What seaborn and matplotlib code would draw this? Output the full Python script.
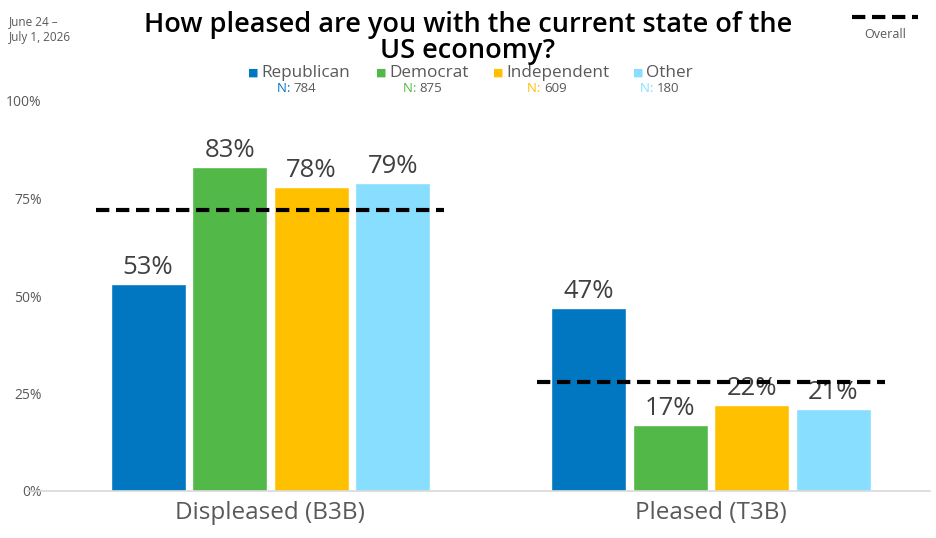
import pandas as pd
import numpy as np
import matplotlib.pyplot as plt
import seaborn as sns

categories = ["Displeased (B3B)", "Pleased (T3B)"]
parties = ["Republican", "Democrat", "Independent", "Other"]
republican = [53, 47]
democrat = [83, 17]
independent = [78, 22]
other = [79, 21]
overall = [72, 28]
sample_n = [784, 875, 609, 180]
colors = ["#0077C0", "#52B848", "#FFC000", "#87DEFF"]

rows = []
for party, vals in zip(parties, [republican, democrat, independent, other]):
    for cat, v in zip(categories, vals):
        rows.append({"category": cat, "party": party, "value": v / 100})
df = pd.DataFrame(rows)

sns.set_style("white")
plt.rcParams["font.family"] = ["Open Sans", "DejaVu Sans"]

fig = plt.figure(figsize=(9.36, 5.38), dpi=100)
ax = fig.add_axes([28 / 936, 1 - 491 / 538, (930 - 28) / 936, 390 / 538])

sns.barplot(data=df, x="category", y="value", hue="party", hue_order=parties,
            palette=colors, saturation=1, width=0.74, gap=0.08, ax=ax, legend=False)

for cont in ax.containers:
    ax.bar_label(cont, labels=[f"{b.get_height() * 100:.0f}%" for b in cont],
                 padding=3, fontsize=18.5, color="#404040")

# overall dashed lines
for i, v in enumerate(overall):
    ax.hlines(v / 100, i - 0.395, i + 0.395, colors="black",
              linestyles=(0, (3.2, 1.6)), linewidth=3, zorder=5)

ax.set_xlim(-0.55, 1.497)
ax.set_ylim(0, 1)
ax.set_yticks([0, 0.25, 0.5, 0.75, 1.0])
ax.set_yticklabels(["0%", "25%", "50%", "75%", "100%"])
ax.tick_params(axis="y", length=0, pad=-10, labelsize=10, labelcolor="#595959")
ax.tick_params(axis="x", length=0, pad=7, labelsize=17.5, labelcolor="#595959")
ax.set_xlabel("")
ax.set_ylabel("")
for s in ["top", "right", "left"]:
    ax.spines[s].set_visible(False)
ax.spines["bottom"].set_color("#d9d9d9")
ax.spines["bottom"].set_linewidth(1.2)

# title and date
fig.text(468 / 936, 1 - 38 / 538,
         "How pleased are you with the current state of the\nUS economy?",
         ha="center", va="center", fontsize=19.5, fontweight="semibold",
         color="black", linespacing=0.92)
fig.text(9 / 936, 1 - 30 / 538, "June 24 –\nJuly 1, 2026", ha="left", va="center",
         fontsize=8.5, color="#595959", linespacing=1.3)

# overall legend
fig.add_artist(plt.Line2D([852 / 936, 918 / 936], [1 - 17 / 538, 1 - 17 / 538],
                          color="black", linewidth=3, linestyle=(0, (3.2, 1.6))))
fig.text(885 / 936, 1 - 34 / 538, "Overall", ha="center", va="center",
         fontsize=9, color="#595959")

# party legend
marker_x = [248, 376, 493, 633]
n_x = [277, 403, 527, 640]
for px, nx, party, n, c in zip(marker_x, n_x, parties, sample_n, colors):
    fig.text(px / 936, 1 - 73 / 538, "■", ha="left", va="center",
             fontsize=8, color=c, family="DejaVu Sans")
    fig.text((px + 13) / 936, 1 - 73 / 538, party, ha="left", va="center",
             fontsize=12.3, color="#595959")
    t = fig.text(nx / 936, 1 - 89 / 538, "N: ", ha="left", va="center",
                 fontsize=9.5, color=c)
    fig.canvas.draw()
    bb = t.get_window_extent()
    fig.text(bb.x1 / 936, 1 - 89 / 538, f"{n}", ha="left", va="center",
             fontsize=9.5, color="#595959")

fig.savefig("out.png", dpi=100)
